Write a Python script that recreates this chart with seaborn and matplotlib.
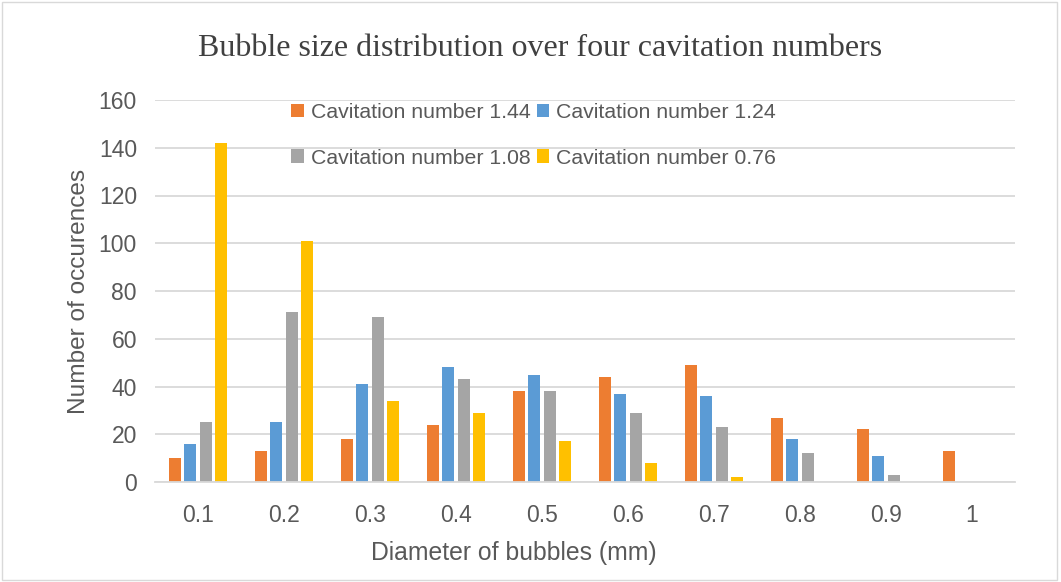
import matplotlib
matplotlib.use("Agg")
import matplotlib.pyplot as plt
import seaborn as sns
import pandas as pd
from matplotlib.patches import Rectangle

diameters = ["0.1", "0.2", "0.3", "0.4", "0.5", "0.6", "0.7", "0.8", "0.9", "1"]
cav_144 = [10, 13, 18, 24, 38, 44, 49, 27, 22, 13]
cav_124 = [16, 25, 41, 48, 45, 37, 36, 18, 11, 0]
cav_108 = [25, 71, 69, 43, 38, 29, 23, 12, 3, 0]
cav_076 = [142, 101, 34, 29, 17, 8, 2, 0, 0, 0]
series_names = ["Cavitation number 1.44", "Cavitation number 1.24",
                "Cavitation number 1.08", "Cavitation number 0.76"]
colors = ["#ED7D31", "#5B9BD5", "#A5A5A5", "#FFC000"]

rows = []
for name, vals in zip(series_names, [cav_144, cav_124, cav_108, cav_076]):
    for d, v in zip(diameters, vals):
        rows.append({"Diameter": d, "Count": v, "Series": name})
df = pd.DataFrame(rows)

sns.set_theme(style="white")
plt.rcParams['font.family'] = ['Liberation Sans', 'DejaVu Sans']

fig = plt.figure(figsize=(10.61, 5.82), dpi=100)
ax = fig.add_axes([155/1061, 1-482/582, 860/1061, 382/582])

sns.barplot(data=df, x="Diameter", y="Count", hue="Series", order=diameters,
            hue_order=series_names, palette=colors, width=0.7, gap=0.2,
            saturation=1, linewidth=0, ax=ax, legend=True)

ax.set_ylim(0, 160)
ax.set_yticks(range(0, 161, 20))
ax.yaxis.grid(True, color="#D9D9D9", linewidth=1.3)
ax.set_axisbelow(True)
for s in ["top", "right", "left"]:
    ax.spines[s].set_visible(False)
ax.spines["bottom"].set_color("#D9D9D9")
ax.spines["bottom"].set_linewidth(1.3)
ax.tick_params(axis="both", length=0, labelsize=16.5, colors="#595959")
ax.tick_params(axis="x", pad=16)
ax.tick_params(axis="y", pad=13)
ax.set_xlabel("Diameter of bubbles (mm)", fontsize=17.8, color="#595959", labelpad=9)
ax.xaxis.set_label_coords((514 - 155) / 860, -0.155)
ax.set_ylabel("Number of occurences", fontsize=17.6, color="#595959", labelpad=6)

fig.suptitle("Bubble size distribution over four cavitation numbers",
             x=540/1061, y=1-48/582, va="center", fontsize=23,
             family="Liberation Serif", color="#404040")

handles, labels = ax.get_legend_handles_labels()
order = [0, 2, 1, 3]
ax.legend([handles[i] for i in order], [labels[i] for i in order], ncol=2,
          frameon=False, fontsize=15.3,
          loc="upper left", bbox_to_anchor=(272/1061, 1-84/582),
          bbox_transform=fig.transFigure, handlelength=0.6, handleheight=0.6,
          handletextpad=0.33, columnspacing=0.28, labelspacing=1.25,
          labelcolor="#595959")

fig.patches.append(Rectangle((0.002, 0.003), 0.994, 0.994, transform=fig.transFigure,
                             fill=False, edgecolor="#D9D9D9", linewidth=1))

fig.savefig("out.png", dpi=100)
